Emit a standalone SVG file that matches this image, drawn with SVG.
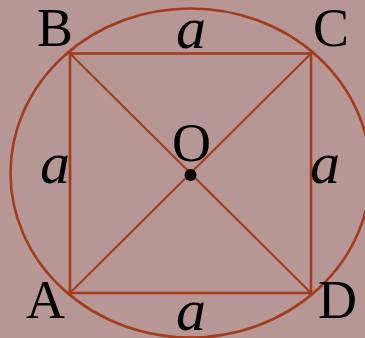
<svg xmlns="http://www.w3.org/2000/svg" width="365" height="338" viewBox="0 0 365 338">
<style>
.ln{stroke:#a23c1a;fill:none}
.lbl{font-family:"Liberation Serif","Times New Roman",serif;font-size:54px;fill:#000}
.var{font-family:"Liberation Serif","Times New Roman",serif;font-size:60px;font-style:italic;fill:#000;text-anchor:middle}
</style>
<rect width="365" height="338" fill="#b79696"/>
<g id="circle"><ellipse class="ln" cx="190.5" cy="173" rx="180" ry="164.5" stroke-width="2.6"/></g>
<g id="connectors">
<rect class="ln" x="70" y="53.5" width="241" height="239.5" stroke-width="2.6"/>
<line class="ln" x1="70" y1="53.5" x2="311" y2="293" stroke-width="2"/>
<line class="ln" x1="311" y1="53.5" x2="70" y2="293" stroke-width="2"/>
</g>
<g id="B"><text class="lbl" x="37" y="45.5">B</text></g>
<g id="C"><text class="lbl" x="313" y="45.5">C</text></g>
<g id="A"><text class="lbl" x="26" y="318">A</text></g>
<g id="D"><text class="lbl" x="318" y="318">D</text></g>
<g id="O"><circle cx="190.5" cy="175" r="6" fill="#000"/><text class="lbl" x="172" y="161">O</text></g>
<g id="labels-a">
<text class="var" x="191" y="48">a</text>
<text class="var" x="55" y="183">a</text>
<text class="var" x="325" y="183">a</text>
<text class="var" x="191" y="330">a</text>
</g>
</svg>
